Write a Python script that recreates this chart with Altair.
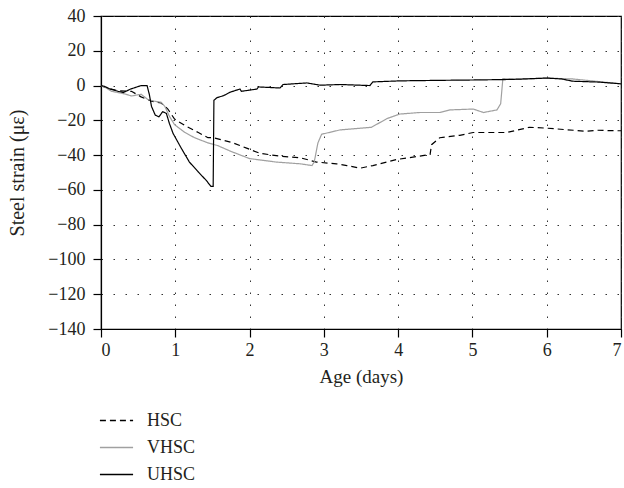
import altair as alt
import pandas as pd

series_names = ["HSC", "VHSC", "UHSC"]

hsc_age = [0, 0.05, 0.23, 0.41, 0.54, 0.68, 0.81, 0.90, 0.99, 1.13, 1.31, 1.44, 1.51, 1.56, 1.78, 1.96,
           2.14, 2.41, 2.68, 2.90, 3.17, 3.31, 3.49, 3.66, 3.98, 4.29, 4.43, 4.45, 4.56, 4.83, 5.01,
           5.46, 5.77, 6.0, 6.36, 6.53, 6.67, 6.94, 7.0]
hsc_strain = [0, -1, -3, -3.3, -6.5, -9, -10, -13.5, -19.3, -23, -27, -30, -30, -30.5, -33, -36,
              -39, -40.6, -41.5, -44, -45, -46, -47.5, -46, -42.5, -40.6, -39.6, -34, -30, -28.6, -27,
              -27, -24, -24.5, -25.7, -26.3, -25.7, -26, -26]

vhsc_age = [0, 0.05, 0.14, 0.32, 0.41, 0.54, 0.63, 0.72, 0.81, 0.86, 0.92, 0.99, 1.13, 1.26, 1.44,
            1.57, 1.74, 2.0, 2.36, 2.68, 2.84, 2.87, 2.92, 2.97, 3.22, 3.64, 3.85, 4.02, 4.29, 4.56,
            4.70, 5.01, 5.15, 5.33, 5.38, 5.41, 5.6, 6.0, 6.35, 6.7, 7.0]
vhsc_strain = [0, -0.8, -3.3, -4.8, -6, -5, -8, -9, -9.6, -12, -17.6, -22.5, -27, -30, -33,
               -34.5, -37.7, -42, -44, -45, -46, -44, -33, -28, -25.5, -24, -19, -16.4, -15.5, -15.5,
               -14, -13.5, -15.5, -14, -10.5, 4.0, 3.5, 4.3, 3.8, 2.3, 1.0]

uhsc_age = [0, 0.05, 0.12, 0.23, 0.30, 0.40, 0.54, 0.62, 0.65, 0.68, 0.73, 0.78, 0.83, 0.88, 0.92,
            0.97, 1.08, 1.19, 1.31, 1.42, 1.48, 1.51, 1.52, 1.56, 1.65, 1.74, 1.87, 1.89, 2.10, 2.12,
            2.41, 2.45, 2.77, 2.95, 3.22, 3.62, 3.66, 4.02, 4.56, 5.0, 5.5, 6.0, 6.2, 6.35, 6.7, 7.0]
uhsc_strain = [0, -0.5, -2, -3.3, -4, -2, 0, 0, -5, -12, -17, -18, -15, -16, -21.7,
               -27.5, -36, -44, -49.7, -54.7, -58, -58, -8.5, -7, -5.8, -3.8, -2, -3.3, -2, -0.8,
               -1.4, 0.6, 1.5, 0.2, 0.6, 0, 2.1, 2.7, 3, 3.2, 3.5, 4.3, 3.8, 2.5, 2, 1.0]

x_ticks = [0, 1, 2, 3, 4, 5, 6, 7]
y_ticks = [-140, -120, -100, -80, -60, -40, -20, 0, 20, 40]

rows = []
for name, xs, ys in [("HSC", hsc_age, hsc_strain), ("VHSC", vhsc_age, vhsc_strain), ("UHSC", uhsc_age, uhsc_strain)]:
    for i, (a, b) in enumerate(zip(xs, ys)):
        rows.append({"series": name, "age": a, "strain": b, "idx": i})
df = pd.DataFrame(rows)

FONT = "Liberation Serif"
TXT = "#231f20"

legend_spec = dict(
    title=None, orient="none", legendX=-2, legendY=387, symbolType="stroke", symbolSize=1100,
    symbolStrokeWidth=1.3, labelFont=FONT, labelFontSize=18, labelColor=TXT, labelOffset=13,
    rowPadding=0, padding=0,
)

chart = alt.Chart(df).mark_line(strokeWidth=1.2, clip=True).encode(
    x=alt.X("age:Q", scale=alt.Scale(domain=[0, 7], nice=False),
            axis=alt.Axis(values=x_ticks, title="Age (days)", format="d", labelPadding=4, titlePadding=8)),
    y=alt.Y("strain:Q", scale=alt.Scale(domain=[-140, 40], nice=False),
            axis=alt.Axis(values=y_ticks, title="Steel strain (με)", format="d", labelPadding=8,
                          titleX=-84, titleY=156.5, titleBaseline="middle", titleAlign="center",
                          titleAngle=270, titleFontSize=20)),
    color=alt.Color("series:N", scale=alt.Scale(domain=series_names, range=["#000000", "#a0a0a0", "#000000"]),
                    legend=alt.Legend(**legend_spec)),
    strokeDash=alt.StrokeDash("series:N", scale=alt.Scale(domain=series_names, range=[[6, 4], [1, 0], [1, 0]]),
                              legend=alt.Legend(**legend_spec)),
    order="idx:Q",
).properties(
    width=520, height=313,
    autosize=alt.AutoSizeParams(type="none"),
    padding={"left": 101, "top": 16, "right": 3, "bottom": 159},
).configure_view(
    stroke="#000000", strokeWidth=1.2
).configure_axis(
    grid=True, gridColor="#333333", gridDash=[1.5, 10.5], gridWidth=1,
    domainColor="#000000", domainWidth=1.2, tickColor="#000000", tickSize=8, tickWidth=1.2,
    labelFont=FONT, labelFontSize=18, labelColor=TXT,
    titleFont=FONT, titleFontSize=19, titleFontWeight="normal", titleColor=TXT,
)

chart.save("out.html", embed_options={"renderer": "svg", "actions": False})
